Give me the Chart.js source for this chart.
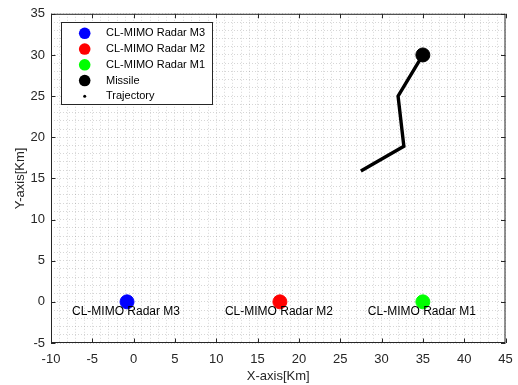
<!DOCTYPE html>
<html>
<head>
<meta charset="utf-8">
<script src="https://cdn.jsdelivr.net/npm/chart.js@4/dist/chart.umd.min.js"></script>
<style>
  html, body { margin: 0; padding: 0; background: #fff; }
  #wrap { width: 518px; height: 385px; }
</style>
</head>
<body>
<div id="wrap"><canvas id="plot"></canvas></div>
<script>
// radar sites (km)
const radarNames = ['CL-MIMO Radar M3', 'CL-MIMO Radar M2', 'CL-MIMO Radar M1'];
const radarX = [-0.8, 17.7, 35];
const radarY = [0, 0, 0];
const radarColors = ['#0000ff', '#ff0000', '#00ff00'];

// missile track, current position first
const trajX = [35, 32, 32.7, 27.5];
const trajY = [30, 25, 18.9, 15.9];

// axis limits and labelled ticks
const xTicks = [-10, -5, 0, 5, 10, 15, 20, 25, 30, 35, 40, 45];
const yTicks = [-5, 0, 5, 10, 15, 20, 25, 30, 35];

const axisColor = '#262626';
const fontFamily = '"Liberation Sans", Arial, sans-serif';

const datasets = radarNames.map((name, i) => ({
    label: name,
    data: [{ x: radarX[i], y: radarY[i] }],
    backgroundColor: radarColors[i],
    borderColor: radarColors[i],
    pointRadius: 7,
    pointHoverRadius: 7,
    order: 0
}));

datasets.push({
    label: 'Missile',
    data: [{ x: trajX[0], y: trajY[0] }],
    backgroundColor: '#000',
    borderColor: '#000',
    pointRadius: 7,
    pointHoverRadius: 7,
    order: 0
});

datasets.push({
    label: 'Trajectory',
    data: trajX.map((x, i) => ({ x: x, y: trajY[i] })),
    showLine: true,
    borderColor: '#000',
    backgroundColor: '#000',
    borderWidth: 3.4,
    pointRadius: 0,
    legendDot: true,
    order: 1
});

// box round the axes with inward tick marks on all four sides
const axesBox = {
    id: 'axesBox',
    afterDraw(chart) {
        const { ctx, chartArea: a, scales } = chart;
        const len = 4.5;
        ctx.save();
        ctx.strokeStyle = axisColor;
        ctx.lineWidth = 1;
        ctx.strokeRect(a.left + 0.5, a.top + 0.5, a.right - a.left - 1, a.bottom - a.top - 1);
        ctx.beginPath();
        xTicks.forEach(v => {
            const px = Math.round(scales.x.getPixelForValue(v)) + 0.5;
            ctx.moveTo(px, a.bottom); ctx.lineTo(px, a.bottom - len);
            ctx.moveTo(px, a.top); ctx.lineTo(px, a.top + len);
        });
        yTicks.forEach(v => {
            const py = Math.round(scales.y.getPixelForValue(v)) + 0.5;
            ctx.moveTo(a.left, py); ctx.lineTo(a.left + len, py);
            ctx.moveTo(a.right, py); ctx.lineTo(a.right - len, py);
        });
        ctx.stroke();
        ctx.restore();
    }
};

// name under each radar marker
const radarText = {
    id: 'radarText',
    afterDatasetsDraw(chart) {
        const { ctx, scales } = chart;
        ctx.save();
        ctx.font = '12px ' + fontFamily;
        ctx.fillStyle = '#000';
        ctx.textAlign = 'center';
        ctx.textBaseline = 'middle';
        radarNames.forEach((name, i) => {
            const px = scales.x.getPixelForValue(radarX[i]);
            const py = scales.y.getPixelForValue(radarY[i]);
            ctx.fillText(name, px - 1, py + 10);
        });
        ctx.restore();
    }
};

// boxed legend in the upper left corner of the axes
const boxLegend = {
    id: 'boxLegend',
    afterDraw(chart) {
        const { ctx } = chart;
        const sets = chart.data.datasets;
        const x0 = 61.5, y0 = 22.5, w = 151, h = 82;
        ctx.save();
        ctx.fillStyle = '#fff';
        ctx.fillRect(x0, y0, w, h);
        ctx.strokeStyle = '#262626';
        ctx.lineWidth = 1;
        ctx.strokeRect(x0, y0, w, h);
        ctx.font = '11px ' + fontFamily;
        ctx.textBaseline = 'middle';
        ctx.textAlign = 'left';
        sets.forEach((ds, i) => {
            const cy = 33.3 + i * 15.75;
            ctx.fillStyle = ds.backgroundColor;
            ctx.beginPath();
            ctx.arc(84.7, cy, ds.legendDot ? 1.5 : 5.8, 0, Math.PI * 2);
            ctx.fill();
            ctx.fillStyle = '#000';
            ctx.fillText(ds.label, 106, cy);
        });
        ctx.restore();
    }
};

// dotted minor grid, one line per km
const gridStyle = {
    color: 'rgba(0,0,0,0.16)',
    lineWidth: 1,
    drawTicks: false
};
const gridBorder = { display: false, dash: [1, 2] };

new Chart(document.getElementById('plot'), {
    type: 'scatter',
    data: { datasets: datasets },
    options: {
        responsive: true,
        maintainAspectRatio: false,
        animation: false,
        events: [],
        layout: { padding: { top: 13, right: 12.5, left: 0, bottom: 0 } },
        plugins: {
            legend: { display: false },
            tooltip: { enabled: false }
        },
        scales: {
            x: {
                type: 'linear',
                min: xTicks[0],
                max: xTicks[xTicks.length - 1],
                afterFit(s) {
                    s.height = 42;
                    // end labels may hang over; keep the plot width fixed
                    s.paddingLeft = 0;
                    s.paddingRight = 0;
                },
                grid: gridStyle,
                border: gridBorder,
                ticks: {
                    stepSize: 1,
                    autoSkip: false,
                    maxRotation: 0,
                    padding: 9,
                    color: axisColor,
                    font: { family: fontFamily, size: 13 },
                    callback: v => (xTicks.includes(v) ? String(v) : '')
                },
                title: {
                    display: true,
                    text: 'X-axis[Km]',
                    color: axisColor,
                    font: { family: fontFamily, size: 13 },
                    padding: { top: 0, bottom: 1 }
                }
            },
            y: {
                type: 'linear',
                min: yTicks[0],
                max: yTicks[yTicks.length - 1],
                afterFit(s) { s.width = 51; },
                grid: gridStyle,
                border: gridBorder,
                ticks: {
                    stepSize: 1,
                    autoSkip: false,
                    padding: 6,
                    color: axisColor,
                    font: { family: fontFamily, size: 13 },
                    callback: v => (yTicks.includes(v) ? String(v) : '')
                },
                title: {
                    display: true,
                    text: 'Y-axis[Km]',
                    color: axisColor,
                    font: { family: fontFamily, size: 13 },
                    padding: { top: 13, bottom: 0 }
                }
            }
        }
    },
    plugins: [axesBox, radarText, boxLegend]
});
</script>
</body>
</html>
